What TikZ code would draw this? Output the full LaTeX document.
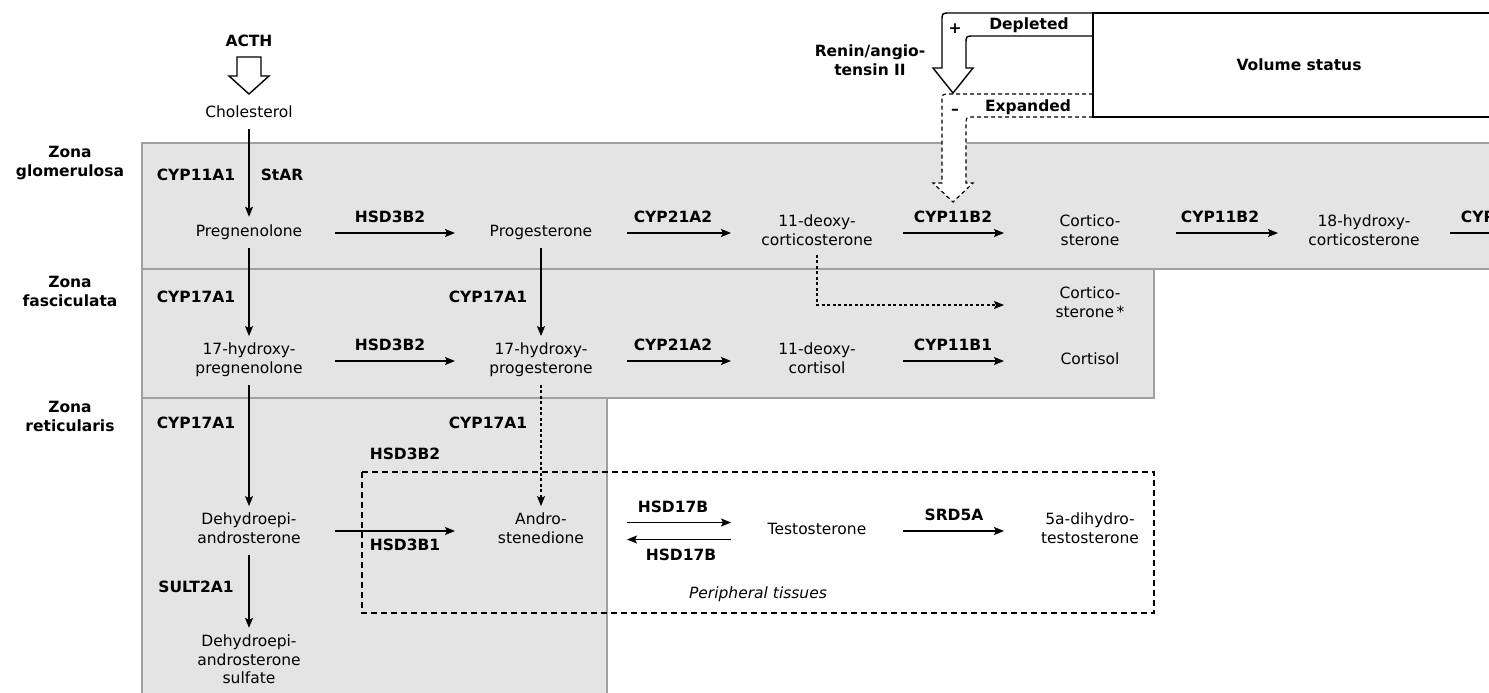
\documentclass[tikz,border=0pt]{standalone}
\usepackage{fontspec}
\setmainfont{DejaVu Sans}
\usetikzlibrary{arrows.meta}
\definecolor{zonefill}{RGB}{228,228,228}
\definecolor{zoneline}{RGB}{160,160,160}
\tikzset{
  cmp/.style={align=center, inner sep=0pt, outer sep=0pt, minimum width=172pt,
    font=\fontsize{15.5}{18.5}\selectfont,
    execute at begin node=\strut, execute at end node=\strut},
  lab/.style={inner sep=0pt, font=\fontsize{15.5}{18.5}\selectfont\bfseries,
    text height=11.3pt, text depth=0pt},
  mlab/.style={inner sep=0pt, align=center, font=\fontsize{15.5}{19}\selectfont\bfseries,
    execute at begin node=\strut, execute at end node=\strut},
  rx/.style={line width=1.3pt, -{Stealth[length=10pt,width=8pt,inset=2pt]}},
  vx/.style={rx, shorten <=6pt, shorten >=7pt},
  dotx/.style={rx, dash pattern=on 3pt off 2.5pt, line width=1.1pt},
  zone/.style={fill=zonefill, draw=zoneline, line width=2.2pt},
  hollow/.style={line width=1.4pt, fill=white, line join=miter},
}
\begin{document}
\begin{tikzpicture}[x=1pt,y=-1pt]
\useasboundingbox (0,0) rectangle (1489,693);
\clip (0,0) rectangle (1489,693);
\fill[white] (0,0) rectangle (1489,693);

% zones
\draw[zone] (142,143) rectangle (1510,269);
\draw[zone] (142,269) rectangle (1154,398);
\draw[zone] (142,398) rectangle (607,710);

% peripheral tissues box
\draw[line width=2pt, dash pattern=on 6pt off 4pt] (362,472) rectangle (1154,613);
\node[inner sep=0pt, font=\fontsize{15.5}{18.5}\selectfont\itshape] (periph) at (758,594) {Peripheral tissues};

% zone labels
\node[mlab] (zg) at (70,164) {Zona\\glomerulosa};
\node[mlab] (zf) at (70,294) {Zona\\fasciculata};
\node[mlab] (zr) at (70,419) {Zona\\reticularis};

% ACTH
\node[lab] (acth) at (249,41) {ACTH};
\draw[hollow] (237,57) -- (261,57) -- (261,76) -- (269,76) -- (249,94) -- (229,76) -- (237,76) -- cycle;

% compounds
\node[cmp] (chol) at (249,114) {Cholesterol};
\node[cmp] (preg) at (249,233) {Pregnenolone};
\node[cmp] (prog) at (541,233) {Progesterone};
\node[cmp] (dcs) at (817,233) {11-deoxy-\\corticosterone};
\node[cmp] (cort) at (1090,233) {Cortico-\\sterone};
\node[cmp] (oh18) at (1364,233) {18-hydroxy-\\corticosterone};
\coordinate (offR) at (1600,233);
\node[cmp] (cs2) at (1090,305) {Cortico-\\sterone\,*};
\node[cmp] (ohpreg) at (249,361) {17-hydroxy-\\pregnenolone};
\node[cmp] (ohprog) at (541,361) {17-hydroxy-\\progesterone};
\node[cmp] (dcl) at (817,361) {11-deoxy-\\cortisol};
\node[cmp] (cortisol) at (1090,361) {Cortisol};
\node[cmp] (dhea) at (249,531) {Dehydroepi-\\androsterone};
\node[cmp] (andro) at (541,531) {Andro-\\stenedione};
\node[cmp] (testo) at (817,531) {Testosterone};
\node[cmp] (dht) at (1090,531) {5a-dihydro-\\testosterone};
\node[cmp] (dheas) at (249,662) {Dehydroepi-\\androsterone\\sulfate};

% enzyme labels
\node[lab] (l1) at (196,175) {CYP11A1};
\node[lab] (l2) at (282,175) {StAR};
\node[lab] (l3) at (390,217) {HSD3B2};
\node[lab] (l4) at (673,217) {CYP21A2};
\node[lab] (l5) at (953,217) {CYP11B2};
\node[lab] (l6) at (1220,217) {CYP11B2};
\node[lab] (l7) at (1500,217) {CYP11B2};
\node[lab] (l8) at (196,297) {CYP17A1};
\node[lab] (l9) at (488,297) {CYP17A1};
\node[lab] (l10) at (390,345) {HSD3B2};
\node[lab] (l11) at (673,345) {CYP21A2};
\node[lab] (l12) at (953,345) {CYP11B1};
\node[lab] (l13) at (196,423) {CYP17A1};
\node[lab] (l14) at (488,423) {CYP17A1};
\node[lab] (l15) at (405,454) {HSD3B2};
\node[lab] (l16) at (405,545) {HSD3B1};
\node[lab] (l17) at (196,587) {SULT2A1};
\node[lab] (l18) at (673,507) {HSD17B};
\node[lab] (l19) at (681,555) {HSD17B};
\node[lab] (l20) at (954,515) {SRD5A};

% vertical arrows
\draw[vx] (chol) -- (preg);
\draw[vx] (preg) -- (ohpreg);
\draw[vx] (ohpreg) -- (dhea);
\draw[vx] (dhea) -- (dheas);
\draw[vx] (prog) -- (ohprog);
\draw[dotx, shorten <=6pt, shorten >=7pt] (ohprog) -- (andro);

% horizontal arrows
\draw[rx] (preg) -- (prog);
\draw[rx] (prog) -- (dcs);
\draw[rx] (dcs) -- (cort);
\draw[rx] (cort) -- (oh18);
\draw[rx] (oh18) -- (offR);
\draw[rx] (ohpreg) -- (ohprog);
\draw[rx] (ohprog) -- (dcl);
\draw[rx] (dcl) -- (cortisol);
\draw[rx] (dhea) -- (andro);
\draw[rx] ([yshift=8.5pt]andro.east) -- ([yshift=8.5pt]testo.west);
\draw[rx] ([yshift=-8.5pt]testo.west) -- ([yshift=-8.5pt]andro.east);
\draw[rx] (testo) -- (dht);
\draw[dotx, shorten <=4pt] (dcs) |- (cs2);

% volume status feedback
\draw[hollow] (1093,13) -- (950,13) .. controls (942,13) .. (942,21) -- (942,68) -- (933,68) -- (953,93) -- (973,68) -- (966,68) -- (966,44) .. controls (966,36) .. (974,36) -- (1093,36);
\draw[hollow, line width=1.1pt, dash pattern=on 4pt off 3pt] (1093,94) -- (950,94) .. controls (942,94) .. (942,102) -- (942,183) -- (933,183) -- (953,202) -- (973,183) -- (966,183) -- (966,125) .. controls (966,117) .. (974,117) -- (1093,117);
\node[draw, line width=2pt, minimum width=412pt, minimum height=104pt, inner sep=0pt,
  font=\fontsize{15.5}{18.5}\selectfont\bfseries] (vol) at (1299,65) {Volume status};
\node[mlab] (renin) at (870,63) {Renin/angio-\\tensin II};
\node[lab] (plus) at (955,28) {+};
\node[lab] (depl) at (1029,24) {Depleted};
\node[lab] (minus) at (955,109) {--};
\node[lab] (expd) at (1028,106) {Expanded};
\end{tikzpicture}
\end{document}
